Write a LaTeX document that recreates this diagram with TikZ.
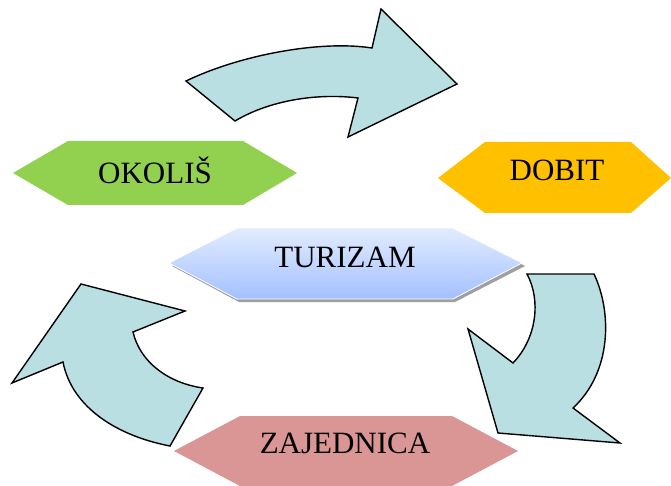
\documentclass[tikz,border=0pt]{standalone}
\usepackage{fontspec}
\setmainfont{Liberation Serif}
\begin{document}
\begin{tikzpicture}[x=1pt,y=-1pt,
  cyc/.style={draw=black, line width=1.4pt, fill=arrowfill, line join=miter},
  lbl/.style={font=\fontsize{31}{36}\selectfont, text=black, inner sep=0pt}]
\definecolor{arrowfill}{HTML}{B9DFE3}
\definecolor{okolis}{HTML}{92D050}
\definecolor{dobit}{HTML}{FFC000}
\definecolor{zajed}{HTML}{D99694}
\definecolor{turtop}{HTML}{E2ECFF}
\definecolor{turbot}{HTML}{A3C0FF}
\useasboundingbox (0,0) rectangle (671,486);
\fill[white] (0,0) rectangle (671,486);
% top arrow
\draw[cyc] (186,81) .. controls (240,55) and (320,40) .. (372,48)
  -- (381,9) -- (457,84) -- (348,137) -- (358,98)
  .. controls (318,93) and (270,100) .. (235,121) -- cycle;
% right arrow
\draw[cyc] (527,274) -- (594,274) .. controls (612,312) and (612,372) .. (573,408)
  -- (620,443) -- (498,433) -- (468,329) -- (513,363)
  .. controls (537,338) and (541,300) .. (527,274) -- cycle;
% left arrow
\draw[cyc] (81,284) -- (185,311) -- (133,332)
  .. controls (140,362) and (168,383) .. (203,388)
  -- (170,446) .. controls (118,436) and (72,408) .. (63,362)
  -- (12,383) -- cycle;
% hexagons
\fill[okolis] (13,173) -- (68,141) -- (243,141) -- (297,173) -- (243,205) -- (68,205) -- cycle;
\fill[dobit] (438,178) -- (485,142) -- (631,142) -- (671,178) -- (631,213) -- (485,213) -- cycle;
\fill[zajed] (174,451) -- (240,416) -- (452,416) -- (518,451) -- (452,486) -- (240,486) -- cycle;
% turizam with shadow
\fill[gray!75] (172,266) -- (239,231) -- (455,231) -- (525,266) -- (455,302) -- (239,302) -- cycle;
\shade[top color=turtop, bottom color=turbot, draw=white, line width=0.8pt]
  (169,263) -- (237,228) -- (453,228) -- (522,263) -- (453,299) -- (237,299) -- cycle;
% labels
\node[lbl] (okolis) at (155,170) {OKOLIŠ};
\node[lbl] (dobit) at (557,170) {DOBIT};
\node[lbl] (turizam) at (345,257) {TURIZAM};
\node[lbl] (zajednica) at (345,443) {ZAJEDNICA};
\end{tikzpicture}
\end{document}
